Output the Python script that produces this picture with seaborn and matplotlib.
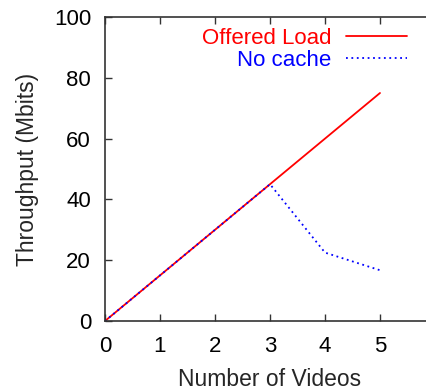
import matplotlib
matplotlib.use("Agg")
import matplotlib.pyplot as plt
import seaborn as sns
import pandas as pd

videos = [0, 1, 2, 3, 4, 5]
offered_load = [0, 15, 30, 45, 60, 75]
no_cache = [0, 15, 30, 45, 22.5, 16.7]
series_names = ["Offered Load", "No cache"]
x_ticks = [0, 1, 2, 3, 4, 5]
y_ticks = [0, 20, 40, 60, 80, 100]

sns.set_style("ticks")
plt.rcParams['font.family'] = ['Liberation Sans', 'DejaVu Sans']

df = pd.DataFrame({
    "videos": videos * 2,
    "throughput": offered_load + no_cache,
    "series": [series_names[0]] * len(videos) + [series_names[1]] * len(videos),
})

fig = plt.figure(figsize=(4.27, 3.90), dpi=100)
ax = fig.add_axes([105/427, 69/390, 330/427, 304/390])

sns.lineplot(data=df, x="videos", y="throughput", hue="series", style="series",
             palette={"Offered Load": "#ff0000", "No cache": "#0000ff"},
             dashes={"Offered Load": "", "No cache": (1, 2)},
             linewidth=1.3, ax=ax, legend=True)

ax.set_xlim(0, 6)
ax.set_ylim(0, 100)
ax.set_xticks(x_ticks)
ax.set_yticks(y_ticks)
ax.set_xlabel("Number of Videos", fontsize=16.5, labelpad=8)
ax.set_ylabel("Throughput (Mbits)", fontsize=16.5, labelpad=11)
ax.tick_params(direction="in", top=True, right=True, length=5, width=1,
               labelsize=16, colors="#333333", labelcolor="black")
ax.tick_params(axis="x", pad=11)
ax.tick_params(axis="y", pad=10)
for s in ax.spines.values():
    s.set_color("#333333")
    s.set_linewidth(1.2)

handles, labels = ax.get_legend_handles_labels()
leg = ax.legend(handles, labels, loc="upper right", frameon=False, markerfirst=False,
                fontsize=16, handlelength=2.75, handletextpad=0.65, labelspacing=0.05,
                bbox_to_anchor=((418 - 105) / 330, 1.0), borderaxespad=0.1)
for txt, col in zip(leg.get_texts(), ["#ff0000", "#0000ff"]):
    txt.set_color(col)

fig.savefig("out.png", dpi=100)
